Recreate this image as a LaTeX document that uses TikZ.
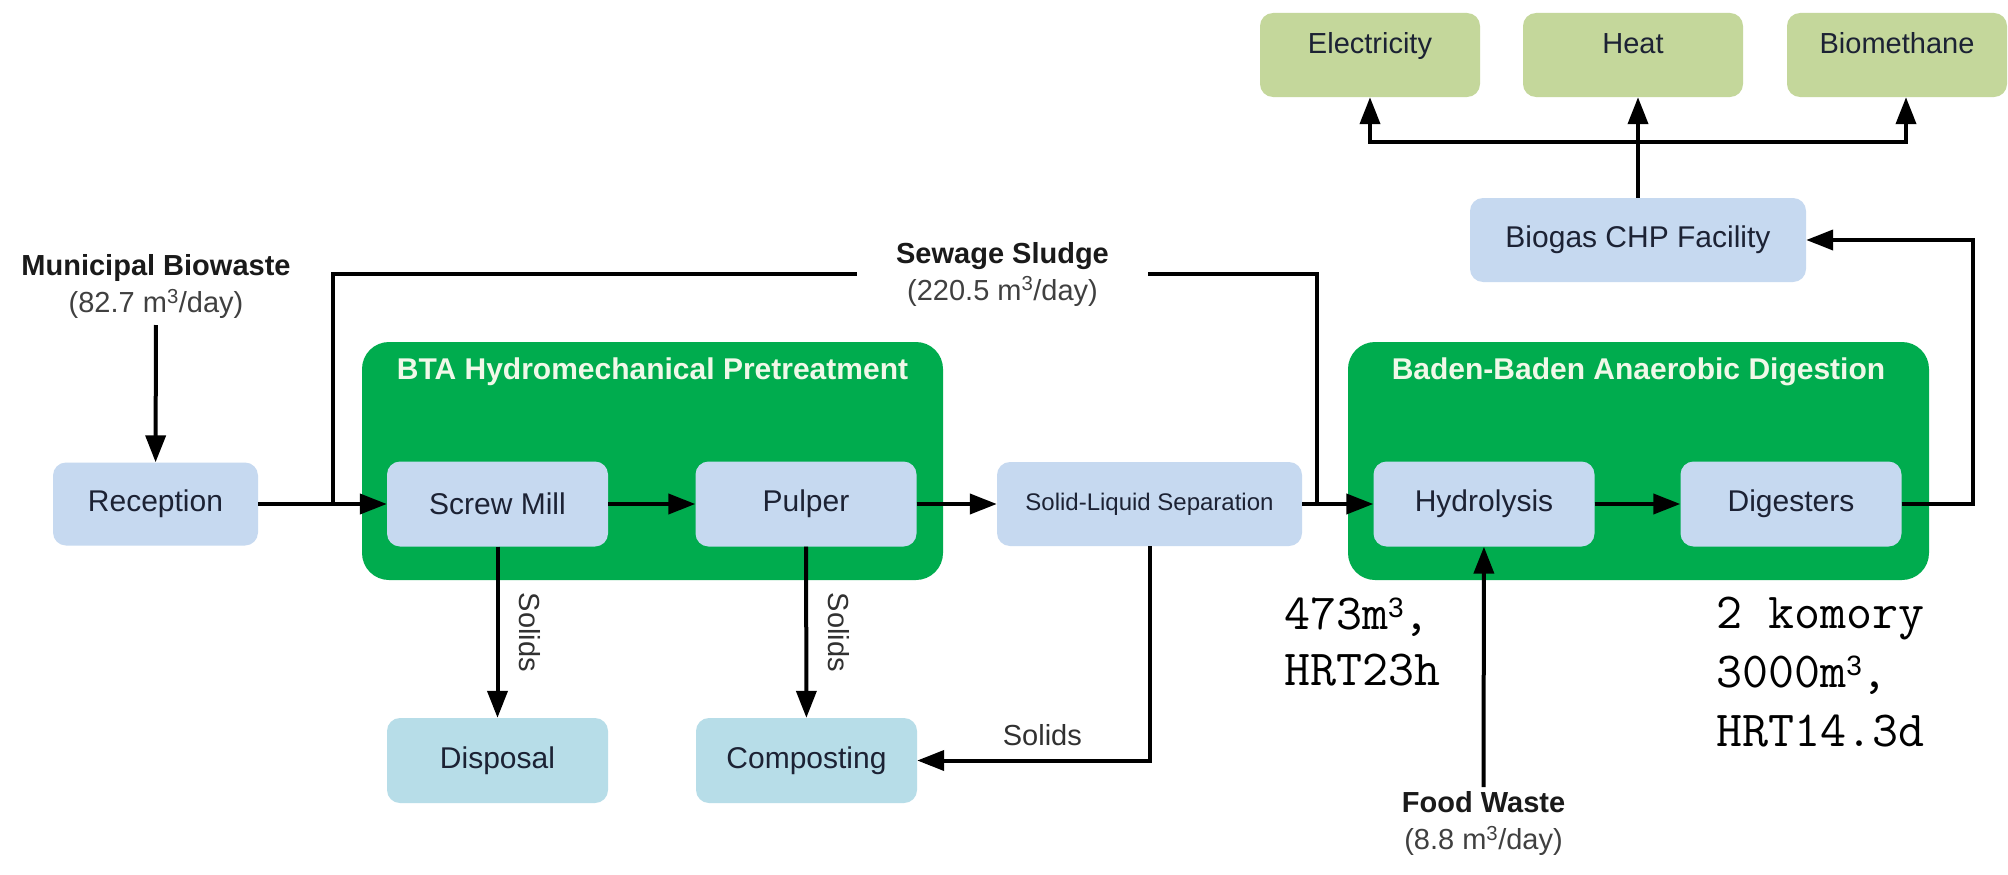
\documentclass[tikz,border=0pt]{standalone}
\usepackage{fontspec}
\setmainfont{Liberation Sans}
\usetikzlibrary{arrows.meta,calc}

\definecolor{groupgreen}{RGB}{0,172,78}
\definecolor{procblue}{RGB}{198,217,240}
\definecolor{sinkteal}{RGB}{183,221,232}
\definecolor{prodgreen}{RGB}{196,215,155}
\definecolor{boxtext}{RGB}{28,34,52}
\definecolor{titletext}{RGB}{240,248,232}
\definecolor{labeltext}{RGB}{26,26,26}
\definecolor{subtext}{RGB}{64,64,64}

% small serif superscript cube for the reactor notes
\newcommand{\cubesup}{\raisebox{12pt}{\rmfamily\fontsize{28}{28}\selectfont 3}}

\tikzset{
  panel/.style={fill=groupgreen, rounded corners=27pt, inner sep=0pt},
  paneltitle/.style={text=titletext, font=\bfseries\fontsize{30}{36}\selectfont, inner sep=0pt},
  proc/.style={fill=procblue, rounded corners=13pt, minimum width=221pt, minimum height=85pt,
    text=boxtext, font=\fontsize{30}{36}\selectfont, inner sep=0pt},
  sink/.style={proc, fill=sinkteal},
  prod/.style={proc, fill=prodgreen, minimum width=220pt, minimum height=84pt,
    font=\fontsize{29}{35}\selectfont, text height=21pt, text depth=24pt},
  lbl/.style={align=center, text=labeltext, font=\fontsize{29}{37}\selectfont, inner sep=6pt},
  flow/.style={line width=4pt},
  arr/.style={flow, -{Triangle[length=27pt,width=20pt]}},
  solids/.style={midway, rotate=-90, anchor=south, inner ysep=20pt, inner xsep=0pt,
    text=labeltext!90, font=\fontsize{29}{35}\selectfont},
  solidsh/.style={text=labeltext!90, font=\fontsize{29}{35}\selectfont, inner sep=13pt},
  anno/.style={align=left, inner sep=0pt, font=\ttfamily\fontsize{50.5}{56}\selectfont},
}

\begin{document}
\begin{tikzpicture}[x=1pt,y=-1pt]
\useasboundingbox (0,0) rectangle (2008,875);
\fill[white] (0,0) rectangle (2008,875);

% process groups
\node[panel, minimum width=581pt, minimum height=238pt] (bta) at (652.5,461) {};
\node[paneltitle] (btatitle) at (652.5,372) {BTA Hydromechanical Pretreatment};
\node[panel, minimum width=581pt, minimum height=238pt] (bad) at (1638.5,461) {};
\node[paneltitle] (badtitle) at (1638.5,372) {Baden-Baden Anaerobic Digestion};

% main process line
\node[proc, minimum width=205pt, minimum height=83pt] (rec) at (155.5,504) {Reception};
\node[proc] (screw) at (497.5,504) {Screw Mill};
\node[proc] (pulp) at (806,504) {Pulper};
\node[proc, minimum width=305pt, minimum height=84pt, font=\fontsize{24}{29}\selectfont] (sls) at (1149.5,504) {Solid-Liquid Separation};
\node[proc] (hyd) at (1484,504) {Hydrolysis};
\node[proc] (dig) at (1791,504) {Digesters};
\node[proc, minimum width=336pt, minimum height=84pt] (chp) at (1638,240) {Biogas CHP Facility};

% solids outlets
\node[sink] (disp) at (497.5,760.5) {Disposal};
\node[sink] (comp) at (806.5,760.5) {Composting};

% energy products
\node[prod] (elec) at (1370,55) {Electricity};
\node[prod] (heat) at (1633,55) {Heat};
\node[prod] (bio) at (1897,55) {Biomethane};

% feed streams
\node[lbl, anchor=south] (muni) at (156,325) {\textbf{Municipal Biowaste}\\{\color{subtext}(82.7 m\textsuperscript{3}/day)}};
\node[lbl, minimum width=291pt, inner xsep=0pt] (sludge) at (1002.5,274) {\textbf{Sewage Sludge}\\{\color{subtext}(220.5 m\textsuperscript{3}/day)}};
\node[lbl, anchor=north, inner sep=4pt] (food) at (1483.5,787) {\textbf{Food Waste}\\{\color{subtext}(8.8 m\textsuperscript{3}/day)}};

% reactor notes
\node[anno, anchor=north west] (hydnote) at (1284,598) {473m\cubesup,\\HRT23h};
\node[anno, anchor=north west, font=\ttfamily\fontsize{50.5}{59}\selectfont] (dignote) at (1716,597) {2 komory\\3000m\cubesup,\\HRT14.3d};

% junctions
\coordinate (jL) at (333,504);
\coordinate (jR) at (1317,504);
\coordinate (jC) at (1973,504);
\coordinate (split) at (1638,142);

% connectors
\draw[arr] (muni) -- (rec);
\draw[arr] (rec) -- (screw);
\draw[arr] (screw) -- (pulp);
\draw[arr] (pulp) -- (sls);
\draw[arr] (sls) -- (hyd);
\draw[arr] (hyd) -- (dig);
\draw[flow] (sludge.west) -| (jL);
\draw[flow] (sludge.east) -| (jR);
\draw[arr] (food) -- (hyd);
\draw[arr] (dig.east) -- (jC) |- (chp.east);
\draw[arr] (chp.north) -- (chp.north |- heat.south);
\draw[arr] (split) -| (elec.south);
\draw[arr] (split) -| ([xshift=9pt]bio.south);

\draw[arr] (screw) -- node[solids] {Solids} (disp);
\draw[arr] (pulp) -- node[solids] {Solids} (comp);
\draw[arr] (sls.south) |- node[pos=0.75, above, xshift=9pt, solidsh] {Solids} (comp.east);
\end{tikzpicture}
\end{document}
